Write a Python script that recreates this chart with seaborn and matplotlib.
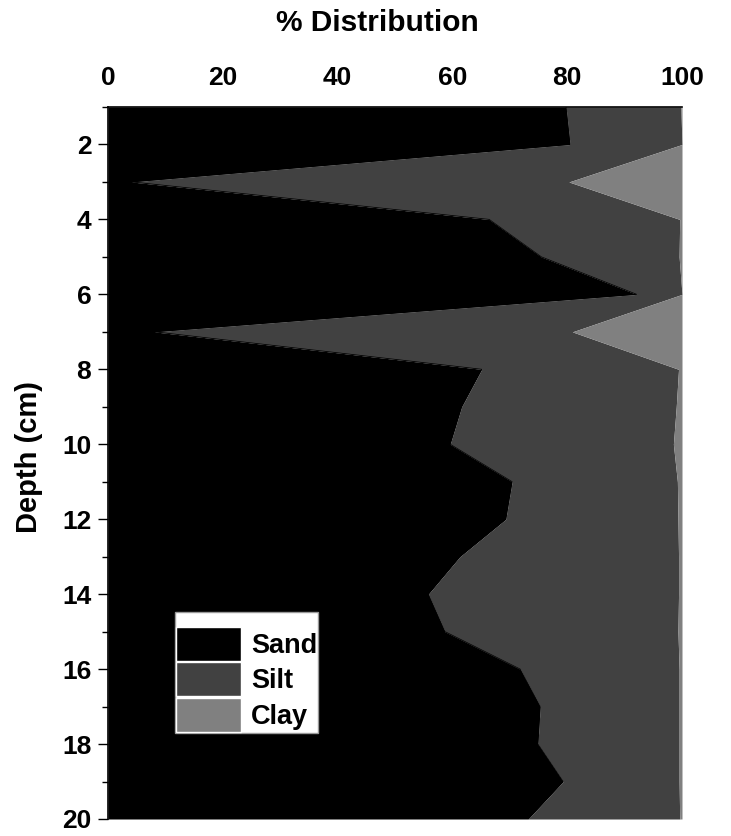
import numpy as np
import pandas as pd
import seaborn as sns
import matplotlib.pyplot as plt
from matplotlib.patches import Patch
from matplotlib.ticker import MultipleLocator

# depth profile of grain size fractions (%)
depth = [1, 2, 3, 4, 5, 6, 7, 8, 9, 10, 11, 12, 13, 14, 15, 16, 17, 18, 19, 20]
sand = [79.8, 80.5, 4.1, 66.4, 75.5, 92.1, 8.1, 65.1, 61.6, 59.6,
        70.4, 69.3, 61.3, 55.8, 58.7, 71.8, 75.3, 74.9, 79.3, 73.2]
silt = [20.0, 19.5, 76.2, 33.2, 24.0, 7.9, 72.8, 34.3, 37.4, 38.9,
        28.8, 30.0, 38.1, 43.6, 40.6, 27.7, 24.2, 24.6, 20.2, 26.4]
clay = [0.2, 0.0, 19.7, 0.4, 0.5, 0.0, 19.1, 0.6, 1.0, 1.5,
        0.8, 0.7, 0.6, 0.6, 0.7, 0.5, 0.5, 0.5, 0.5, 0.4]

labels = ["Sand", "Silt", "Clay"]
colors = ["#000000", "#414141", "#808080"]

sns.set_style("ticks", {"text.color": "black", "xtick.color": "black",
                        "ytick.color": "black", "axes.labelcolor": "black",
                        "axes.edgecolor": "black"})
plt.rcParams['font.family'] = ['Liberation Sans', 'DejaVu Sans']
plt.rcParams['font.weight'] = 'bold'

df = pd.DataFrame({"Depth": depth, "Sand": sand, "Silt": silt, "Clay": clay})
cum = df[labels].cumsum(axis=1)

fig = plt.figure(figsize=(7.31, 8.36), dpi=100)
ax = fig.add_axes([108 / 731, 1 - 819 / 836, 574 / 731, 712 / 836])

left = np.zeros(len(df))
for name, col in zip(labels, colors):
    right = cum[name].values
    ax.fill_betweenx(df["Depth"], left, right, color=col, lw=0)
    left = right

# outline the sand/silt boundary with seaborn so the edge is crisp
sns.lineplot(x=cum["Sand"], y=df["Depth"], sort=False, orient="y",
             color=colors[0], lw=0.6, ax=ax)

ax.set_xlim(0, 100)
ax.set_ylim(20, 1)
ax.xaxis.set_major_locator(MultipleLocator(20))
ax.xaxis.set_minor_locator(MultipleLocator(10))
ax.yaxis.set_major_locator(MultipleLocator(2))
ax.yaxis.set_minor_locator(MultipleLocator(1))
ax.xaxis.tick_top()
ax.xaxis.set_label_position("top")
ax.tick_params(which="major", length=7, width=1, labelsize=19, pad=5,
               colors="black")
ax.tick_params(which="minor", length=4, width=1, colors="black")
ax.tick_params(axis="x", which="both", bottom=False, top=True)
for lab in ax.get_xticklabels() + ax.get_yticklabels():
    lab.set_fontweight("bold")

ax.set_xlabel("% Distribution", fontsize=21.5, fontweight="bold", color="black")
ax.set_ylabel("Depth (cm)", fontsize=21, fontweight="bold", color="black")
ax.xaxis.set_label_coords(0.469, 1.107)
ax.yaxis.set_label_coords(-0.113, 0.508)

sns.despine(ax=ax, top=False, right=True, bottom=True, left=False)
ax.spines["top"].set_linewidth(1.2)
ax.spines["left"].set_linewidth(1.2)

handles = [Patch(facecolor=c, edgecolor="white", lw=1) for c in colors]
leg = ax.legend(handles, labels, loc="lower left", bbox_to_anchor=(0.1167, 0.1208),
                borderaxespad=0, borderpad=0.05, fontsize=19.5, title=" ",
                title_fontsize=9, handlelength=2.4, handleheight=1.55,
                labelspacing=0.05, handletextpad=0.35, frameon=True,
                fancybox=False, framealpha=1)
leg.get_frame().set_edgecolor("#999999")
leg.get_frame().set_linewidth(1)
for t in leg.get_texts():
    t.set_fontweight("bold")
    t.set_color("black")

fig.savefig("out.png", dpi=100)
